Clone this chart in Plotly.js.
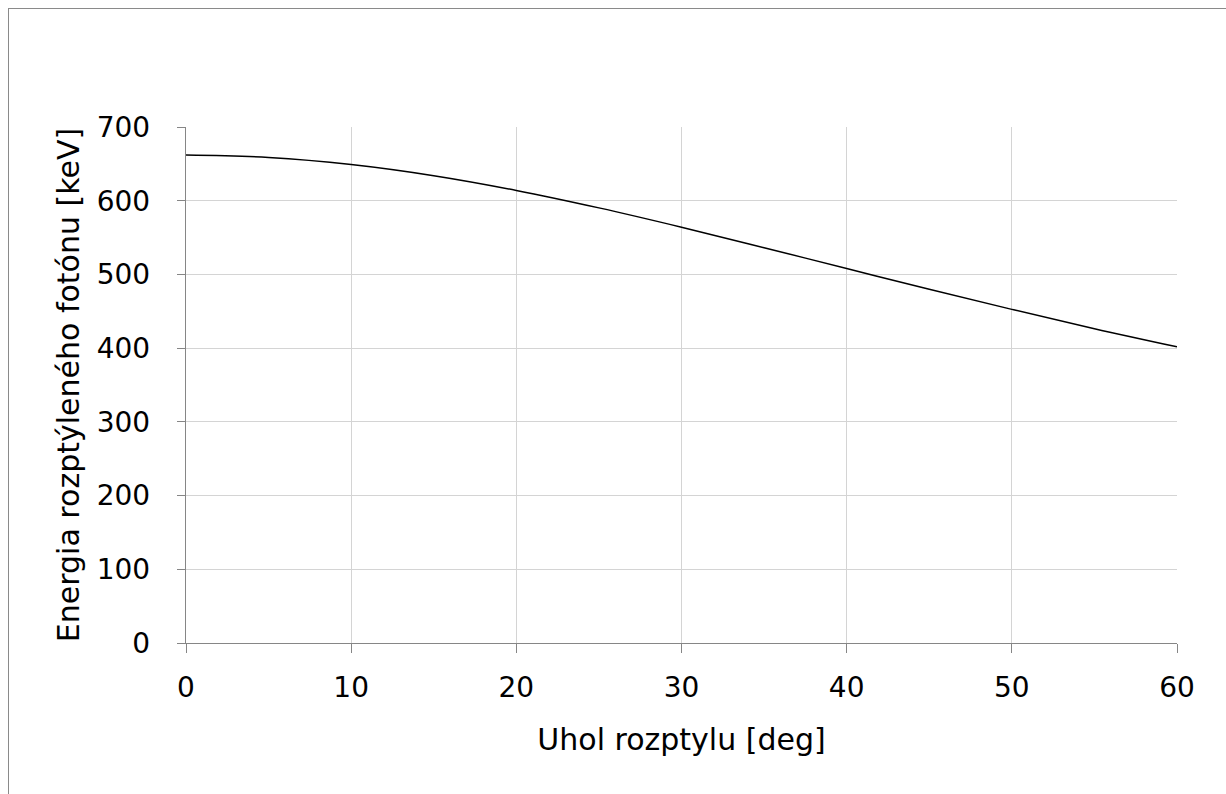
<!DOCTYPE html>
<html>
<head>
<meta charset="utf-8">
<script src="https://cdn.plot.ly/plotly-3.0.1.min.js"></script>
<style>
html,body{margin:0;padding:0;background:#fff;}
#plot{position:absolute;left:0;top:0;width:1226px;height:794px;}
#frame{position:absolute;left:8px;top:8px;width:1240px;height:800px;border-left:1px solid #8a8a8a;border-top:1px solid #8a8a8a;pointer-events:none;}
</style>
</head>
<body>
<div id="plot"></div>
<div id="frame"></div>
<script>
// Scattering angle [deg]
const angles = [0, 5, 10, 15, 20, 25, 30, 35, 40, 45, 50, 55, 60];
// Energy of scattered photon [keV]
const energies = [662, 658.7, 649.2, 634.0, 614.0, 590.3, 564.1, 536.3, 508.0, 479.9, 452.6, 426.4, 401.8];
const xTicks = [0, 10, 20, 30, 40, 50, 60];
const yTicks = [0, 100, 200, 300, 400, 500, 600, 700];

const fam = "'DejaVu Sans', 'Open Sans', sans-serif";
const tickFont = {family: fam, size: 28, color: '#000'};
const titleFont = {family: fam, size: 30, color: '#000'};

Plotly.newPlot('plot', [{
  x: angles,
  y: energies,
  type: 'scatter',
  mode: 'lines',
  line: {color: '#000', width: 1.5, shape: 'spline'},
  hoverinfo: 'skip'
}], {
  width: 1226,
  height: 794,
  paper_bgcolor: '#fff',
  plot_bgcolor: '#fff',
  margin: {l: 186, r: 49, t: 127, b: 151},
  showlegend: false,
  font: tickFont,
  xaxis: {
    range: [0, 60],
    tickvals: xTicks,
    ticktext: xTicks.map(String),
    showgrid: true,
    gridcolor: '#d4d4d4',
    gridwidth: 1,
    zeroline: false,
    showline: true,
    linecolor: '#868686',
    linewidth: 1.3,
    ticks: 'outside',
    ticklen: 9,
    tickcolor: '#868686',
    tickfont: tickFont,
    ticklabelstandoff: 10,
    title: {text: 'Uhol rozptylu [deg]', font: titleFont, standoff: 26}
  },
  yaxis: {
    range: [0, 700],
    tickvals: yTicks,
    ticktext: yTicks.map(String),
    showgrid: true,
    gridcolor: '#d4d4d4',
    gridwidth: 1,
    zeroline: false,
    showline: true,
    linecolor: '#868686',
    linewidth: 1.3,
    ticks: 'outside',
    ticklen: 8,
    tickcolor: '#868686',
    tickfont: tickFont,
    ticklabelstandoff: 21,
    title: {text: 'Energia rozptýleného fotónu [keV]', font: titleFont, standoff: 8}
  }
}, {displayModeBar: false, staticPlot: true});
</script>
</body>
</html>
